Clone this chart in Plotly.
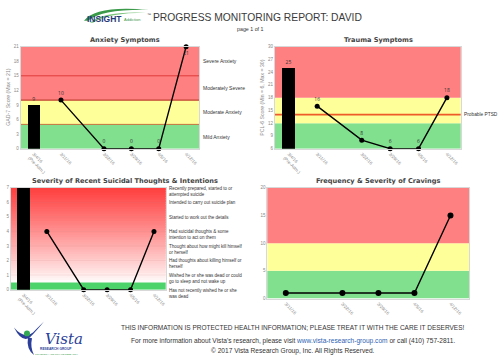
import plotly.graph_objects as go

W, H = 500, 364

# ---------------- data ----------------
pre_date = "2016-03-04"
visit_dates = ["2016-03-11", "2016-03-22", "2016-03-29", "2016-04-05", "2016-04-12"]
all_dates = [pre_date] + visit_dates
tick_labels = ["3/4/16<br>(Pre-Adm.)", "3/11/16", "3/22/16", "3/29/16", "4/5/16", "4/12/16"]

anxiety_pre = 9
anxiety_visits = [10, 0, 0, 0, 21]
trauma_pre = 25
trauma_visits = [16, 8, 6, 6, 18]
suicide_pre = 7
suicide_visits = [4, 0, 0, 0, 4]
cravings_visits = [1, 1, 1, 1, 15]

anxiety_levels = ["Severe Anxiety", "Moderately Severe", "Moderate Anxiety", "Mild Anxiety"]
anxiety_level_pos = [18, 12.5, 7.5, 2.5]
ptsd_label = "Probable PTSD"
ptsd_cutoff = 14
suicide_levels = [
    "Recently prepared, started to or<br>attempted suicide",
    "Intended to carry out suicide plan",
    "Started to work out the details",
    "Had suicidal thoughts & some<br>intention to act on them",
    "Thought about how might kill himself<br>or herself",
    "Had thoughts about killing himself or<br>herself",
    "Wished he or she was dead or could<br>go to sleep and not wake up",
    "Has not recently wished he or she<br>was dead",
]
suicide_level_pos = [7, 6, 5, 4, 3, 2, 1, 0]


def px(x):
    return x / W


def py(y):
    return 1 - y / H


RED, YEL, GRN = "#ff8080", "#ffff99", "#80e08e"
DAY = 86400000

P3_TOP, P3_BOT = 188.3, 291.7

fig = go.Figure()

# ---- Panel 1: anxiety ----
fig.add_trace(go.Bar(x=[pre_date], y=[anxiety_pre], xaxis="x", yaxis="y", width=3.25 * DAY,
                     marker=dict(color="black", line=dict(width=0)), text=[str(anxiety_pre)],
                     textposition="outside", textfont=dict(size=5, color="#333"), cliponaxis=False))
fig.add_trace(go.Scatter(x=visit_dates, y=anxiety_visits, xaxis="x", yaxis="y",
                         mode="lines+markers+text", text=[str(v) for v in anxiety_visits],
                         textposition=["top center"] * 4 + ["bottom center"],
                         textfont=dict(size=5, color="#333"),
                         line=dict(color="black", width=1.4), marker=dict(color="black", size=5),
                         cliponaxis=False))

# ---- Panel 2: trauma ----
fig.add_trace(go.Bar(x=[pre_date], y=[trauma_pre], xaxis="x2", yaxis="y2", width=3.2 * DAY,
                     marker=dict(color="black", line=dict(width=0)), text=[str(trauma_pre)],
                     textposition="outside", textfont=dict(size=5, color="#333"), cliponaxis=False))
fig.add_trace(go.Scatter(x=visit_dates, y=trauma_visits, xaxis="x2", yaxis="y2",
                         mode="lines+markers+text", text=[str(v) for v in trauma_visits],
                         textposition="top center", textfont=dict(size=5, color="#333"),
                         line=dict(color="black", width=1.4), marker=dict(color="black", size=5),
                         cliponaxis=False))

# ---- Panel 3: suicidal ----
fig.add_trace(go.Bar(x=[pre_date], y=[suicide_pre], xaxis="x3", yaxis="y3", width=3.8 * DAY,
                     marker=dict(color="black", line=dict(width=0))))
fig.add_trace(go.Scatter(x=visit_dates, y=suicide_visits, xaxis="x3", yaxis="y3",
                         mode="lines+markers", line=dict(color="black", width=1.4),
                         marker=dict(color="black", size=5), cliponaxis=False))

# ---- Panel 4: cravings ----
fig.add_trace(go.Scatter(x=visit_dates, y=cravings_visits, xaxis="x4", yaxis="y4",
                         mode="lines+markers", line=dict(color="black", width=1.4),
                         marker=dict(color="black", size=6), cliponaxis=False))

shapes = []


def band(ax, y0, y1, color):
    shapes.append(dict(type="rect", xref=f"{ax} domain", yref=ax.replace("x", "y"), x0=0, x1=1,
                       y0=y0, y1=y1, fillcolor=color, line=dict(width=0), layer="below"))


def hline(ax, y, color, width):
    shapes.append(dict(type="line", xref=f"{ax} domain", yref=ax.replace("x", "y"), x0=0, x1=1,
                       y0=y, y1=y, line=dict(color=color, width=width), layer="below"))


band("x", 0, 5, GRN); band("x", 5, 10, YEL); band("x", 10, 21, RED)
hline("x", 5, "#c0703a", 1); hline("x", 10, "#c04030", 1.2); hline("x", 15, "#e03a3a", 1)
band("x2", 6, 12, GRN); band("x2", 12, 18, YEL); band("x2", 18, 30, RED)
hline("x2", ptsd_cutoff, "#ee5a28", 1.6)
band("x4", 0, 5, GRN); band("x4", 5, 10, YEL); band("x4", 10, 20, RED)

# gradient for panel 3 (overlapping strips to avoid seams)
n = 40
step = 6.5 / n
for i in range(n):
    y0 = 0.5 + step * i
    y1 = min(7, y0 + step * 1.8)
    t = (i + 0.5) / n
    g = int(255 - (255 - 62) * t ** 0.9)
    band("x3", y0, y1, f"rgb(255,{g},{g})")
band("x3", 0, 0.5, "#4cd46a")
for k in range(1, 7):
    hline("x3", k, "rgba(190,120,120,0.18)", 0.6)

# header logo swoosh
shapes.append(dict(type="path", xref="paper", yref="paper",
                   path=f"M {px(84)},{py(19)} Q {px(96)},{py(3)} {px(149)},{py(8)} "
                        f"Q {px(102)},{py(7)} {px(88)},{py(19)} Z",
                   fillcolor="#3a9a4a", line=dict(width=0)))
shapes.append(dict(type="path", xref="paper", yref="paper",
                   path=f"M {px(90)},{py(21)} Q {px(104)},{py(9)} {px(146)},{py(11)} "
                        f"Q {px(108)},{py(11)} {px(93)},{py(21)} Z",
                   fillcolor="#7cc47c", line=dict(width=0)))
# footer Vista logo figure
shapes.append(dict(type="path", xref="paper", yref="paper",
                   path=f"M {px(14)},{py(330)} Q {px(24)},{py(342)} {px(33)},{py(335)} "
                        f"Q {px(40)},{py(328)} {px(44)},{py(324)} Q {px(36)},{py(334)} {px(30)},{py(340)} "
                        f"Q {px(22)},{py(346)} {px(14)},{py(330)} Z",
                   fillcolor="#2b3f9a", line=dict(width=0)))
shapes.append(dict(type="path", xref="paper", yref="paper",
                   path=f"M {px(28)},{py(340)} Q {px(26)},{py(352)} {px(34)},{py(358)} "
                        f"Q {px(30)},{py(350)} {px(32)},{py(341)} Z",
                   fillcolor="#2b3f9a", line=dict(width=0)))
shapes.append(dict(type="circle", xref="paper", yref="paper",
                   x0=px(24), x1=px(30), y0=py(339), y1=py(333),
                   fillcolor="#32a852", line=dict(width=0)))

ann = []
TF = "DejaVu Sans"
AF = "Liberation Sans"


def text(x, y, s, size, color="#333", xanchor="center", yanchor="middle", bold=False, family=AF,
         angle=0, xref="paper", yref="paper", align="center"):
    ann.append(dict(x=x, y=y, xref=xref, yref=yref, text=f"<b>{s}</b>" if bold else s, showarrow=False,
                    font=dict(size=size, color=color, family=family), xanchor=xanchor,
                    yanchor=yanchor, textangle=angle, align=align, borderpad=0))


# header
text(px(86), py(17), "INSIGHT", 8.5, "#1f3a78", xanchor="left", bold=True, family=AF)
text(px(123), py(18), "Addiction", 4, "#3a9a4a", xanchor="left", family=AF)
text(px(146), py(13), "™", 4, "#333", xanchor="left")
text(px(257), py(15.5), "PROGRESS MONITORING REPORT: DAVID", 10.3, "#3a3a3a")
text(px(250), py(27), "page 1 of 1", 5.3, "#333")

# panel titles
text(px(124.5), py(38.3), "Anxiety Symptoms", 6.6, "#444", bold=True, family=TF)
text(px(378), py(38.3), "Trauma Symptoms", 6.6, "#444", bold=True, family=TF)
text(px(124.5), py(181), "Severity of Recent Suicidal Thoughts &amp; Intentions", 6.6, "#444", bold=True, family=TF)
text(px(378), py(181), "Frequency &amp; Severity of Cravings", 6.6, "#444", bold=True, family=TF)

# y titles
text(px(8), py(97), "GAD-7 Score (Max = 21)", 5.2, "#888", angle=-90)
text(px(262), py(97), "PCL-6 Score (Min = 6, Max = 30)", 5.2, "#888", angle=-90)

# right-side labels
for s, v in zip(anxiety_levels, anxiety_level_pos):
    text(px(202), v, s, 5, "#333", xanchor="left", yref="y", family=AF)
text(px(463), ptsd_cutoff, ptsd_label, 4.8, "#333", xanchor="left", yref="y2", family=AF)
for s, v in zip(suicide_levels, suicide_level_pos):
    ypix = P3_BOT - v * (P3_BOT - P3_TOP) / 7 - 3.2
    text(px(167.5), py(ypix), s, 4.5, "#333", xanchor="left", yanchor="top",
         family=AF, align="left")

# footer
text(px(293), py(330.5), "THIS INFORMATION IS PROTECTED HEALTH INFORMATION; PLEASE TREAT IT WITH THE CARE IT DESERVES!",
     6.5, "#333")
text(px(293), py(344), "For more information about Vista's research, please visit "
                       "<span style='color:#2f5fb3'>www.vista-research-group.com</span> or call (410) 757-2811.",
     6.6, "#333")
text(px(293), py(353.5), "© 2017 Vista Research Group, Inc. All Rights Reserved.", 6.6, "#333")
text(px(44), py(342), "<i>Vista</i>", 15, "#2b3f9a", xanchor="left", family="DejaVu Serif")
text(px(56), py(352), "RESEARCH GROUP", 3.3, "#2b3f9a", bold=True)
text(px(56), py(356.5), "UNIVERSITY AND PRIVATE RESEARCH", 2.3, "#3a9a4a")


def xax(domain, rng, vals, labels):
    return dict(domain=domain, type="date", range=rng, tickvals=vals, ticktext=labels,
                tickangle=45, tickfont=dict(size=4.5, color="#888", family=AF), showgrid=False,
                zeroline=False, showline=True, mirror=True, linecolor="#d8d8d8", linewidth=1,
                ticks="", fixedrange=True)


def yax(domain, rng, vals):
    return dict(domain=domain, range=rng, tickvals=vals, tickfont=dict(size=4.5, color="#888", family=AF),
                showgrid=False, zeroline=False,
                showline=True, mirror=True, linecolor="#d8d8d8", linewidth=1, ticks="", fixedrange=True)


fig.update_layout(
    width=W, height=H, margin=dict(l=0, r=0, t=0, b=0), paper_bgcolor="white", plot_bgcolor="white",
    showlegend=False, bargap=0,
    xaxis=dict(**xax([px(20.7), px(199)], ["2016-02-29 16:48", "2016-04-15 07:12"], all_dates, tick_labels), anchor="y"),
    yaxis=dict(**yax([py(148.7), py(45.3)], [0, 21], list(range(0, 22, 3))), anchor="x"),
    xaxis2=dict(**xax([px(275), px(460.7)], ["2016-02-29 14:24", "2016-04-15 09:36"], all_dates, tick_labels), anchor="y2"),
    yaxis2=dict(**yax([py(148.7), py(45.3)], [6, 30], list(range(6, 31, 3))), anchor="x2"),
    xaxis3=dict(**xax([px(11), px(165.7)], ["2016-02-29 07:12", "2016-04-15 12:00"], all_dates, tick_labels), anchor="y3"),
    yaxis3=dict(**yax([py(P3_BOT), py(P3_TOP)], [0, 7], list(range(0, 8))), anchor="x3"),
    xaxis4=dict(**xax([px(267.3), px(469)], ["2016-03-07 09:36", "2016-04-15 14:24"], visit_dates, tick_labels[1:]), anchor="y4"),
    yaxis4=dict(**yax([py(300.7), py(188.3)], [0, 20], list(range(0, 21, 5))), anchor="x4"),
    shapes=shapes, annotations=ann, hovermode=False,
)

fig.write_html("out.html", config={"displayModeBar": False},
               post_script="document.body.style.margin='0';document.body.style.overflow='hidden';")
